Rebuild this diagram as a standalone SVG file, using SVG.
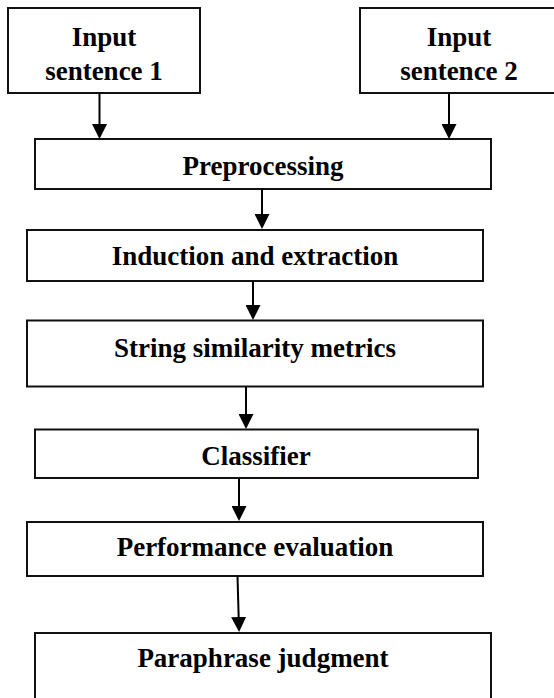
<svg xmlns="http://www.w3.org/2000/svg" width="554" height="698" viewBox="0 0 554 698">
<defs>
<style>
.box{fill:#fff;stroke:#111;stroke-width:2}
.lbl{font-family:"Liberation Serif","Times New Roman",serif;font-weight:bold;font-size:27px;fill:#000;text-anchor:middle}
.edge{stroke:#000;stroke-width:2;fill:none;marker-end:url(#ah)}
</style>
<marker id="ah" markerWidth="15" markerHeight="15" refX="5" refY="7.5" orient="auto" markerUnits="userSpaceOnUse">
<path d="M0,0 L15,7.5 L0,15 z" fill="#000"/>
</marker>
</defs>
<rect width="554" height="698" fill="#fff"/>
<g id="input1">
<rect class="box" x="8" y="8" width="192" height="85"/>
<text class="lbl" x="104" y="46">Input</text>
<text class="lbl" x="104" y="80">sentence 1</text>
</g>
<g id="input2">
<rect class="box" x="360" y="8" width="200" height="85"/>
<text class="lbl" x="459" y="46">Input</text>
<text class="lbl" x="459" y="80">sentence 2</text>
</g>
<g id="preprocessing">
<rect class="box" x="35" y="139" width="456" height="50"/>
<text class="lbl" x="263" y="175">Preprocessing</text>
</g>
<g id="induction">
<rect class="box" x="27" y="230" width="456" height="51"/>
<text class="lbl" x="255" y="265">Induction and extraction</text>
</g>
<g id="string">
<rect class="box" x="27" y="320.5" width="456" height="66"/>
<text class="lbl" x="255" y="357">String similarity metrics</text>
</g>
<g id="classifier">
<rect class="box" x="35" y="429.5" width="443" height="48.5"/>
<text class="lbl" x="256" y="465">Classifier</text>
</g>
<g id="performance">
<rect class="box" x="27" y="522" width="456" height="54"/>
<text class="lbl" x="255" y="556">Performance evaluation</text>
</g>
<g id="paraphrase">
<rect class="box" x="35" y="633" width="456" height="70"/>
<text class="lbl" x="263" y="667">Paraphrase judgment</text>
</g>
<g id="connectors">
<line class="edge" x1="99.5" y1="93" x2="99.5" y2="129"/>
<line class="edge" x1="449" y1="93" x2="449" y2="129"/>
<line class="edge" x1="262" y1="189" x2="262" y2="219"/>
<line class="edge" x1="253" y1="281" x2="253" y2="310"/>
<line class="edge" x1="246" y1="387" x2="246" y2="419"/>
<line class="edge" x1="239" y1="478" x2="239" y2="511"/>
<line class="edge" x1="237.5" y1="576" x2="238.8" y2="622"/>
</g>
</svg>
